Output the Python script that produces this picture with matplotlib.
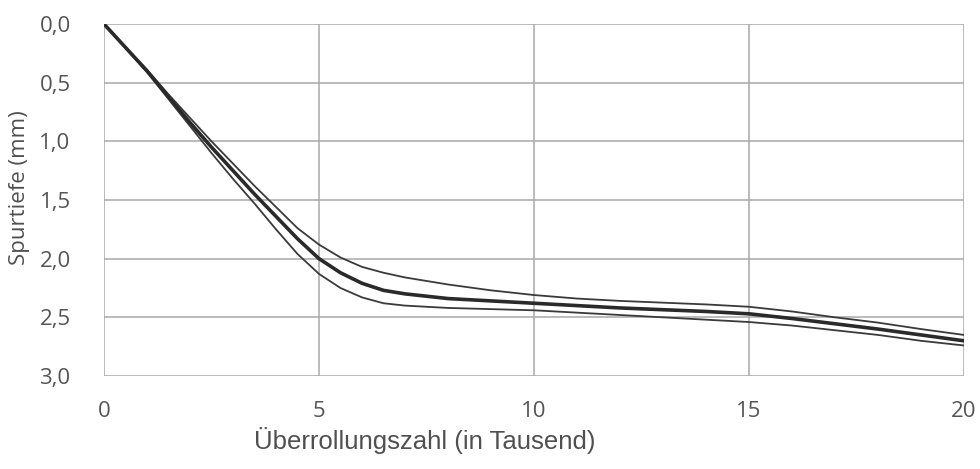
import matplotlib
matplotlib.use("Agg")
import matplotlib.pyplot as plt

# Überrollungszahl (in Tausend)
x = [0, 1, 1.5, 2, 2.5, 3, 3.5, 4, 4.5, 5, 5.5, 6, 6.5, 7, 7.5, 8, 9, 10,
     11, 12, 13, 14, 15, 16, 17, 18, 19, 20]
# Spurtiefe (mm)
upper = [0, 0.39, 0.60, 0.80, 1.00, 1.19, 1.38, 1.56, 1.74, 1.88, 1.99, 2.07, 2.12, 2.16,
         2.19, 2.22, 2.27, 2.31, 2.34, 2.36, 2.375, 2.39, 2.41, 2.45, 2.50, 2.545, 2.60, 2.65]
middle = [0, 0.40, 0.62, 0.84, 1.05, 1.25, 1.45, 1.64, 1.83, 2.00, 2.12, 2.21, 2.27, 2.30,
          2.32, 2.34, 2.36, 2.38, 2.40, 2.42, 2.435, 2.45, 2.47, 2.51, 2.555, 2.60, 2.65, 2.70]
lower = [0, 0.41, 0.64, 0.87, 1.10, 1.32, 1.53, 1.75, 1.96, 2.13, 2.25, 2.33, 2.38, 2.40,
         2.41, 2.42, 2.43, 2.44, 2.46, 2.48, 2.50, 2.52, 2.54, 2.57, 2.61, 2.65, 2.70, 2.74]

xticks = [0, 5, 10, 15, 20]
yticks = [0.0, 0.5, 1.0, 1.5, 2.0, 2.5, 3.0]
ytick_labels = ["0,0", "0,5", "1,0", "1,5", "2,0", "2,5", "3,0"]

fig = plt.figure(figsize=(9.8, 4.69), dpi=100)
ax = fig.add_axes([104/980, 1-376/469, (964-104)/980, (376-24)/469])

kw = dict(solid_joinstyle="round", solid_capstyle="round")
ax.plot(x, upper, color="#3a3a3a", lw=1.3, zorder=3, **kw)
ax.plot(x, lower, color="#3a3a3a", lw=1.3, zorder=3, **kw)
ax.plot(x, middle, color="#2a2a2a", lw=2.6, zorder=4, **kw)

ax.set_xlim(0, 20)
ax.set_ylim(3.0, 0.0)
ax.set_xticks(xticks)
ax.set_yticks(yticks)
ax.set_yticklabels(ytick_labels)
ax.grid(True, color="#a8a8a8", lw=1.1)
ax.set_axisbelow(True)
for s in ax.spines.values():
    s.set_visible(False)
ax.tick_params(length=0)
ax.tick_params(axis="y", pad=24, labelsize=16, labelcolor="#555555")
ax.tick_params(axis="x", pad=18, labelsize=16, labelcolor="#555555")
for lab in ax.get_xticklabels() + ax.get_yticklabels():
    lab.set_family("Open Sans")

fig.text(20/980, 1-188/469, "Spurtiefe (mm)", rotation=90, ha="center", va="center",
         fontsize=16, family="Open Sans", color="#505050")
fig.text(425/980, 1-440/469, "Überrollungszahl (in Tausend)", ha="center", va="center",
         fontsize=18.5, family="Liberation Sans", color="#505050")

fig.savefig("out.png", dpi=100)
